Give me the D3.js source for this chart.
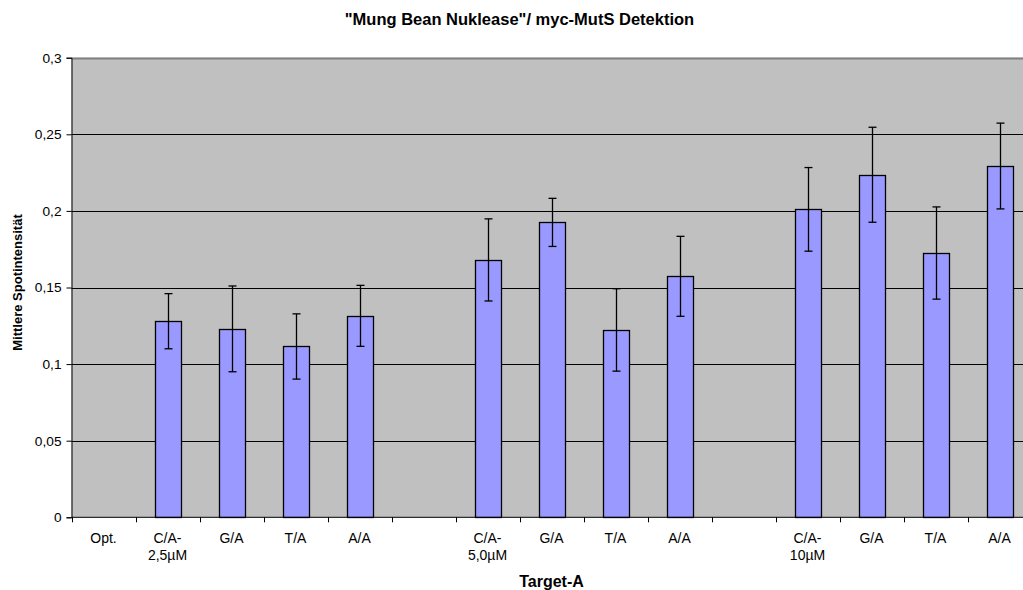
<!DOCTYPE html>
<html>
<head>
<meta charset="utf-8">
<script src="https://cdn.jsdelivr.net/npm/d3@7"></script>
<style>
  html, body { margin: 0; padding: 0; background: #fff; overflow: hidden; }
  svg { display: block; font-family: "Liberation Sans", Arial, sans-serif; }
</style>
</head>
<body>
<svg id="chart" width="1023" height="590"></svg>
<script>
// Category slots (empty strings are spacer slots between concentration groups)
const categories = ["Opt.", "C/A-|2,5µM", "G/A", "T/A", "A/A", "",
                    "C/A-|5,0µM", "G/A", "T/A", "A/A", "",
                    "C/A-|10µM", "G/A", "T/A", "A/A"];
// Mean spot intensity per slot (null = no bar)
const means = [null, 0.128, 0.123, 0.1115, 0.1315, null,
               0.168, 0.1925, 0.1223, 0.1573, null,
               0.201, 0.2236, 0.1725, 0.2293];
// Error bar half-widths
const errors = [null, 0.018, 0.028, 0.0213, 0.0199, null,
                0.0268, 0.0157, 0.0269, 0.0261, null,
                0.0273, 0.031, 0.0301, 0.028];
const yTicks = [0, 0.05, 0.1, 0.15, 0.2, 0.25, 0.3];
const yTickLabels = ["0", "0,05", "0,1", "0,15", "0,2", "0,25", "0,3"];

const svg = d3.select("#chart");
const plotL = 71.5, plotT = 57.7, plotB = 517.3, plotR = 1031.5;

const x = d3.scaleBand()
  .domain(d3.range(categories.length))
  .range([plotL, plotR])
  .paddingInner(0).paddingOuter(0);
const y = d3.scaleLinear().domain([0, 0.3]).range([plotB, plotT]);

// Plot background
svg.append("rect")
  .attr("x", plotL).attr("y", plotT)
  .attr("width", plotR - plotL).attr("height", plotB - plotT)
  .attr("fill", "#c0c0c0");

// Horizontal grid lines
svg.append("g").selectAll("line")
  .data(yTicks.filter(d => d > 0 && d < 0.3))
  .join("line")
  .attr("x1", plotL).attr("x2", plotR)
  .attr("y1", d => Math.round(y(d)) + 0.5).attr("y2", d => Math.round(y(d)) + 0.5)
  .attr("stroke", "#000").attr("stroke-width", 1);

// Plot frame (top/right)
svg.append("path")
  .attr("d", `M${plotL},${Math.round(plotT) + 0.5}H${plotR}V${plotB}`)
  .attr("fill", "none").attr("stroke", "#808080").attr("stroke-width", 2);

// Bars
const barW = 26;
const idx = d3.range(categories.length).filter(i => means[i] != null);
svg.append("g").selectAll("rect")
  .data(idx)
  .join("rect")
  .attr("x", i => Math.round(x(i) + x.bandwidth() / 2 - barW / 2) + 0.5)
  .attr("y", i => Math.round(y(means[i])) + 0.5)
  .attr("width", barW)
  .attr("height", i => Math.round(y(0)) - Math.round(y(means[i])))
  .attr("fill", "#9999ff")
  .attr("stroke", "#000").attr("stroke-width", 1.3);

// Error bars
const eb = svg.append("g").attr("stroke", "#000").attr("stroke-width", 1.3);
idx.forEach(i => {
  const cx = Math.round(x(i) + x.bandwidth() / 2) + 0.5;
  const hi = y(means[i] + errors[i]), lo = y(means[i] - errors[i]);
  eb.append("line").attr("x1", cx).attr("x2", cx).attr("y1", hi).attr("y2", lo);
  eb.append("line").attr("x1", cx - 4).attr("x2", cx + 4).attr("y1", hi).attr("y2", hi);
  eb.append("line").attr("x1", cx - 4).attr("x2", cx + 4).attr("y1", lo).attr("y2", lo);
});

// Y axis
const yAxis = svg.append("g")
  .attr("transform", `translate(${plotL},0)`)
  .call(d3.axisLeft(y).tickValues(yTicks)
    .tickFormat((d, i) => yTickLabels[i]).tickSize(5).tickPadding(5));
yAxis.select(".domain").attr("stroke", "#000");
yAxis.selectAll(".tick line").attr("stroke", "#000");
yAxis.selectAll("text").attr("font-size", 13.7).attr("fill", "#000")
  .attr("font-family", "Liberation Sans, Arial, sans-serif");

// X axis with ticks on category boundaries
const xAxisG = svg.append("g");
xAxisG.append("line")
  .attr("x1", plotL).attr("x2", plotR)
  .attr("y1", plotB).attr("y2", plotB)
  .attr("stroke", "#000").attr("stroke-width", 1);
xAxisG.selectAll("line.tk")
  .data(d3.range(categories.length + 1))
  .join("line").attr("class", "tk")
  .attr("x1", i => Math.round(plotL + i * x.step()) + 0.5)
  .attr("x2", i => Math.round(plotL + i * x.step()) + 0.5)
  .attr("y1", plotB).attr("y2", plotB + 5)
  .attr("stroke", "#000");
const xl = xAxisG.selectAll("text.cat")
  .data(d3.range(categories.length))
  .join("text").attr("class", "cat")
  .attr("x", i => x(i) + x.bandwidth() / 2)
  .attr("y", 543)
  .attr("text-anchor", "middle")
  .attr("font-size", 14).attr("fill", "#000");
xl.each(function(i) {
  const parts = categories[i].split("|");
  const t = d3.select(this);
  parts.forEach((p, k) => {
    t.append("tspan").attr("x", x(i) + x.bandwidth() / 2)
      .attr("dy", k === 0 ? 0 : 17).text(p);
  });
});

// Titles
svg.append("text")
  .attr("x", 519.5).attr("y", 25)
  .attr("text-anchor", "middle")
  .attr("font-size", 16.5).attr("font-weight", "bold")
  .text("\"Mung Bean Nuklease\"/ myc-MutS Detektion");

svg.append("text")
  .attr("x", (plotL + plotR) / 2).attr("y", 586.5)
  .attr("text-anchor", "middle")
  .attr("font-size", 16).attr("font-weight", "bold")
  .text("Target-A");

svg.append("text")
  .attr("transform", `translate(21.5,${282.5}) rotate(-90)`)
  .attr("text-anchor", "middle")
  .attr("font-size", 13).attr("font-weight", "bold")
  .text("Mittlere Spotintensität");
</script>
</body>
</html>
